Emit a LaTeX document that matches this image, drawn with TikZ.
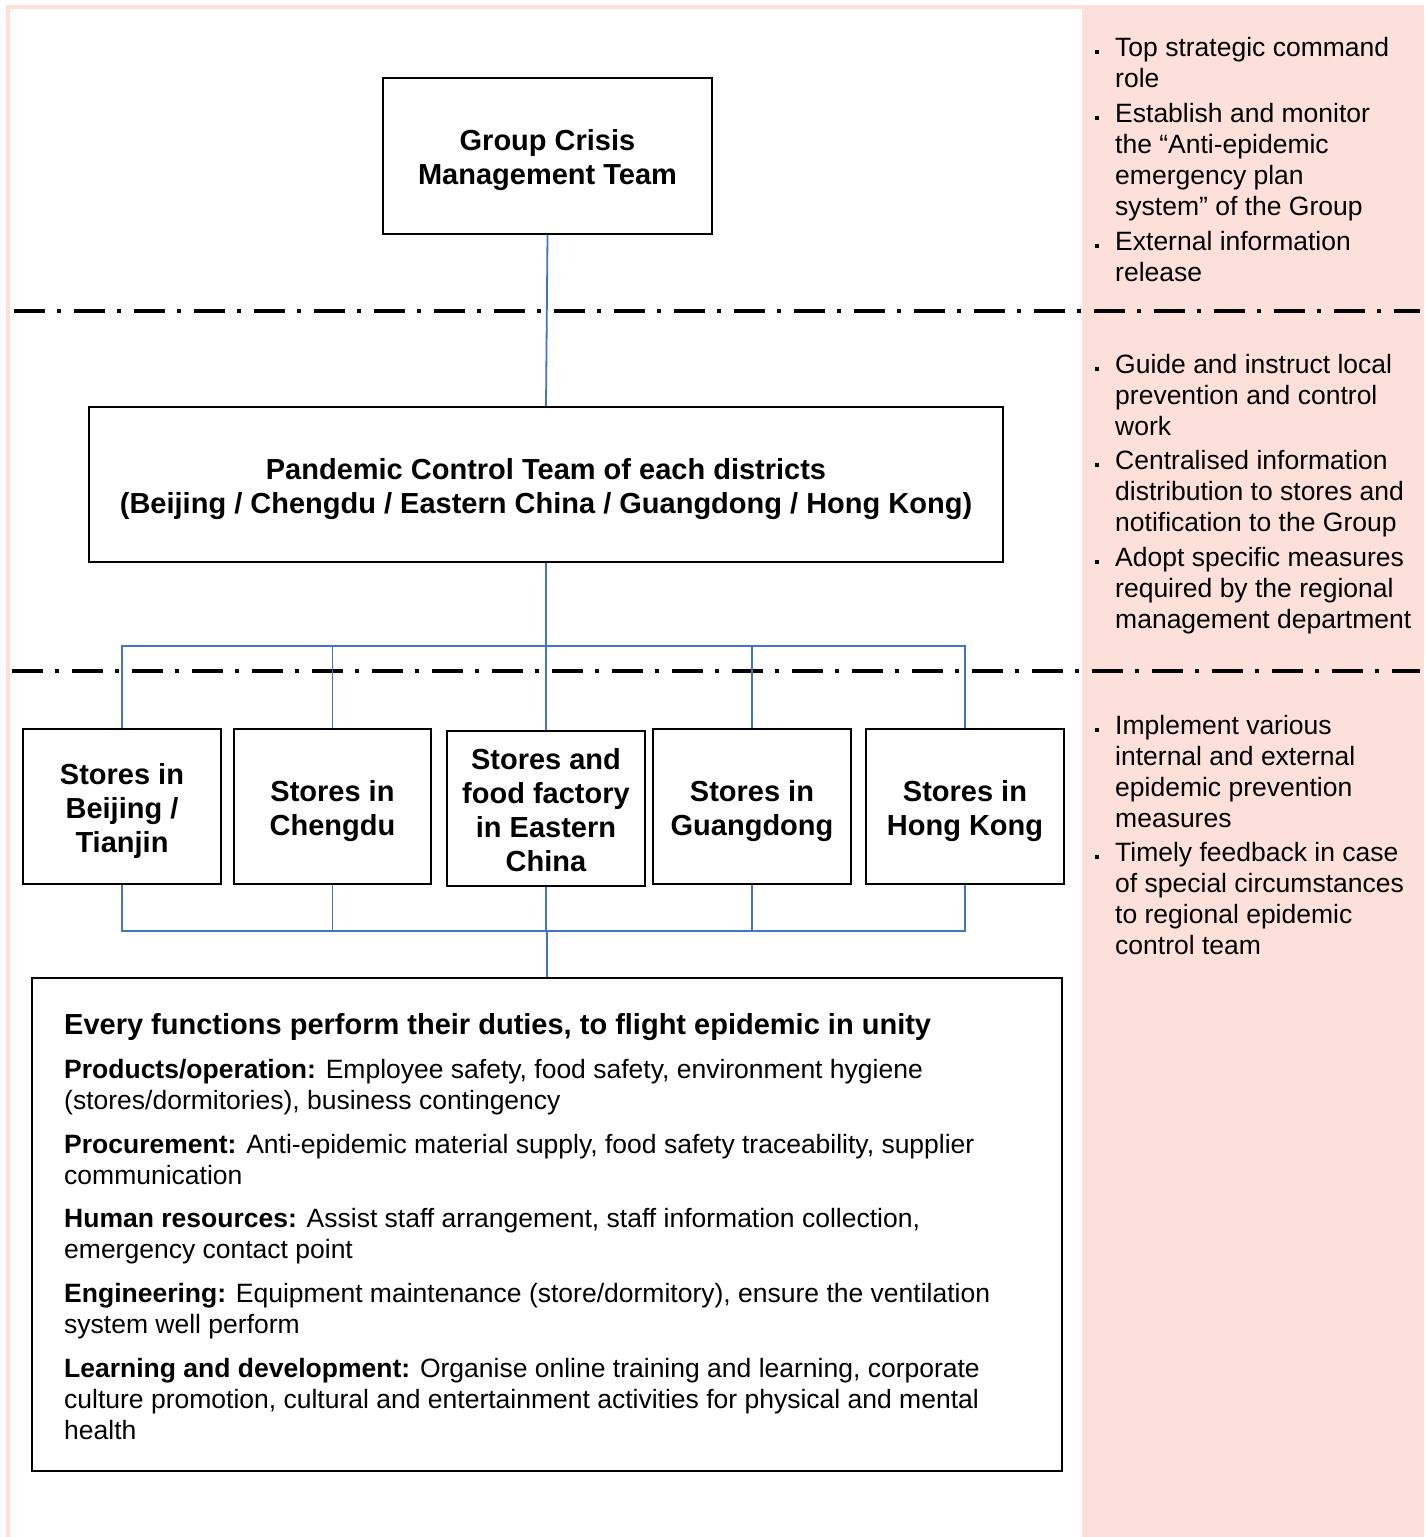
\documentclass[tikz,border=0pt]{standalone}
\usepackage{fontspec}
\setmainfont{Liberation Sans}
\definecolor{panelpink}{HTML}{FDE0D9}
\definecolor{linkblue}{HTML}{4472C4}
\newcommand{\bulsq}{\raisebox{2.2pt}{\rule{3.8pt}{3.8pt}}}
\newcommand{\myboxstrut}{\rule{0pt}{23pt}}
\begin{document}
\begin{tikzpicture}[x=1pt,y=-1pt]
\tikzset{
  box/.style={draw=black, line width=2.4pt, align=center, inner sep=0pt, text depth=0pt, font=\bfseries\fontsize{29}{34}\selectfont},
  conn/.style={draw=linkblue, line width=1.8pt},
  sepline/.style={line width=4pt, dash pattern=on 31pt off 12pt on 4pt off 13pt},
  ptxt/.style={anchor=base west, align=left, inner sep=0pt, font=\fontsize{26.5}{31}\selectfont},
  btxt/.style={anchor=base west, align=left, inner sep=0pt, font=\fontsize{26.5}{31}\selectfont},
}
\useasboundingbox (0,0) rectangle (1425,1537);
% background panel and frame
\fill[panelpink] (1082,8) rectangle (1424,1537);
\draw[panelpink, line width=3.5pt] (8,1537) -- (8,7) -- (1424,7);

% separator lines
\coordinate (s1a) at (14,311); \coordinate (s1b) at (1420,311);
\coordinate (s2a) at (12,671); \coordinate (s2b) at (1420,671);
\draw[sepline] (s1a) -- (s1b);
\draw[sepline] (s2a) -- (s2b);

% boxes
\node[box, minimum width=329pt, minimum height=156pt] (G) at (547.5,156) {\myboxstrut Group Crisis\\Management Team};
\node[box, minimum width=914pt, minimum height=155pt] (P) at (546,484.5) {\myboxstrut Pandemic Control Team of each districts\\(Beijing / Chengdu / Eastern China / Guangdong / Hong Kong)};
\node[box, minimum width=198pt, minimum height=155pt] (S1) at (122,806.5) {\myboxstrut Stores in\\Beijing /\\Tianjin};
\node[box, minimum width=197pt, minimum height=155pt] (S2) at (332.5,806.5) {\myboxstrut Stores in\\Chengdu};
\node[box, minimum width=198pt, minimum height=155pt] (S3) at (546,808.5) {\myboxstrut Stores and\\food factory\\in Eastern\\China};
\node[box, minimum width=198pt, minimum height=155pt] (S4) at (752,806.5) {\myboxstrut Stores in\\Guangdong};
\node[box, minimum width=198pt, minimum height=155pt] (S5) at (965,806.5) {\myboxstrut Stores in\\Hong Kong};
\node[draw=black, line width=2.4pt, minimum width=1030pt, minimum height=493pt, inner sep=0pt] (B) at (547,1224.5) {};

% connectors
\draw[conn] (G.south) -- (P.north);
\coordinate (top) at (546,646);
\coordinate (bot) at (547,931);
\draw[conn] (P.south) -- (top);
\draw[conn] (S1.north) |- (top) -| (S5.north);
\draw[conn] (S2.north) -- (S2.north |- top);
\draw[conn] (S3.north) -- (S3.north |- top);
\draw[conn] (S4.north) -- (S4.north |- top);
\draw[conn] (S1.south) |- (bot) -| (S5.south);
\draw[conn] (S2.south) -- (S2.south |- bot);
\draw[conn] (S3.south) -- (S3.south |- bot);
\draw[conn] (S4.south) -- (S4.south |- bot);
\draw[conn] (bot) -- (B.north);

% bottom box text (anchor = baseline of last line)
\node[btxt, font=\bfseries\fontsize{29}{34}\selectfont] (bh) at (64,1034) {Every functions perform their duties, to flight epidemic in unity};
\node[btxt] (b1) at (64,1109) {\textbf{Products/operation:} Employee safety, food safety, environment hygiene\\(stores/dormitories), business contingency};
\node[btxt] (b2) at (64,1184) {\textbf{Procurement:} Anti-epidemic material supply, food safety traceability, supplier\\communication};
\node[btxt] (b3) at (64,1258) {\textbf{Human resources:} Assist staff arrangement, staff information collection,\\emergency contact point};
\node[btxt] (b4) at (64,1333) {\textbf{Engineering:} Equipment maintenance (store/dormitory), ensure the ventilation\\system well perform};
\node[btxt] (b5) at (64,1439) {\textbf{Learning and development:} Organise online training and learning, corporate\\culture promotion, cultural and entertainment activities for physical and mental\\health};

% right panel bullets (text anchor = baseline of last line)
\node[ptxt] (d1) at (1095,56) {\bulsq};
\node[ptxt] (r1) at (1115,87) {Top strategic command\\role};
\node[ptxt] (d2) at (1095,122) {\bulsq};
\node[ptxt] (r2) at (1115,215) {Establish and monitor\\the “Anti-epidemic\\emergency plan\\system” of the Group};
\node[ptxt] (d3) at (1095,250) {\bulsq};
\node[ptxt] (r3) at (1115,281) {External information\\release};

\node[ptxt] (d4) at (1095,373) {\bulsq};
\node[ptxt] (r4) at (1115,435) {Guide and instruct local\\prevention and control\\work};
\node[ptxt] (d5) at (1095,469) {\bulsq};
\node[ptxt] (r5) at (1115,531) {Centralised information\\distribution to stores and\\notification to the Group};
\node[ptxt] (d6) at (1095,566) {\bulsq};
\node[ptxt] (r6) at (1115,628) {Adopt specific measures\\required by the regional\\management department};

\node[ptxt] (d7) at (1095,734) {\bulsq};
\node[ptxt] (r7) at (1115,827) {Implement various\\internal and external\\epidemic prevention\\measures};
\node[ptxt] (d8) at (1095,861) {\bulsq};
\node[ptxt] (r8) at (1115,954) {Timely feedback in case\\of special circumstances\\to regional epidemic\\control team};
\end{tikzpicture}
\end{document}
